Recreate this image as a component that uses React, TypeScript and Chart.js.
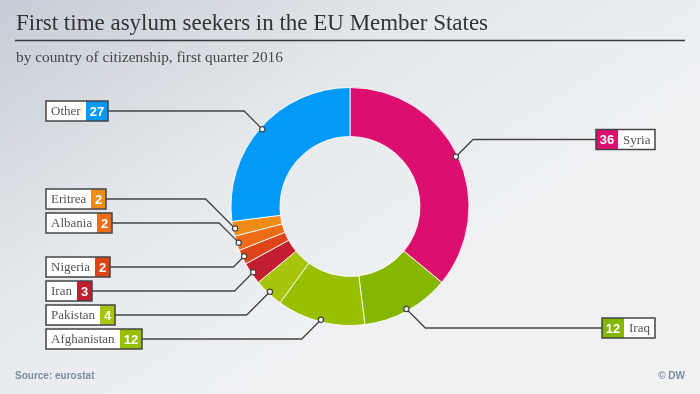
import React, { useEffect, useRef } from 'react';
import { Chart, registerables } from 'chart.js';

Chart.register(...registerables);

const categories = ['Syria', 'Iraq', 'Afghanistan', 'Pakistan', 'Iran', 'Nigeria', 'Albania', 'Eritrea', 'Other'];
const values = [36, 12, 12, 4, 3, 2, 2, 2, 27];
const sliceColors = ['#dc0e6e', '#86b700', '#97bf00', '#a9c40c', '#c11f30', '#df4419', '#ee6b17', '#ee8c17', '#0399f6'];
const labelSides = ['right', 'right', 'left', 'left', 'left', 'left', 'left', 'left', 'left'];
const labelRows = [139.5, 328, 339, 315, 291, 267, 223, 199, 111];

const TITLE = 'First time asylum seekers in the EU Member States';
const SUBTITLE = 'by country of citizenship, first quarter 2016';
const SOURCE = 'Source: eurostat';
const CREDIT = '© DW';

const SERIF = '"Liberation Serif", "DejaVu Serif", serif';
const SANS = '"Liberation Sans", Arial, sans-serif';

function fitFont(ctx: CanvasRenderingContext2D, text: string, target: number, family: string) {
  ctx.font = `20px ${family}`;
  const w = ctx.measureText(text).width;
  const size = (20 * target) / w;
  return `${size.toFixed(2)}px ${family}`;
}

const decor = {
  id: 'decor',
  beforeDraw(chart: any) {
    const { ctx, width, height } = chart;
    ctx.save();
    const g = ctx.createLinearGradient(0, 0, 260, 394);
    g.addColorStop(0, '#c4cdd6');
    g.addColorStop(0.55, '#e6e9ec');
    g.addColorStop(1, '#eff1f3');
    ctx.fillStyle = g;
    ctx.fillRect(0, 0, width, height);

    ctx.textAlign = 'left';
    ctx.textBaseline = 'alphabetic';
    ctx.fillStyle = '#333333';
    ctx.font = fitFont(ctx, TITLE, 472, SERIF);
    ctx.fillText(TITLE, 16, 30);

    ctx.strokeStyle = '#3a3a3a';
    ctx.lineWidth = 1.5;
    ctx.beginPath();
    ctx.moveTo(15, 40.5);
    ctx.lineTo(685, 40.5);
    ctx.stroke();

    ctx.fillStyle = '#444444';
    ctx.font = fitFont(ctx, SUBTITLE, 267, SERIF);
    ctx.fillText(SUBTITLE, 16, 62);

    ctx.fillStyle = '#7d8e9f';
    ctx.font = `bold 10px ${SANS}`;
    ctx.fillText(SOURCE, 15, 379);
    ctx.textAlign = 'right';
    ctx.fillText(CREDIT, 685, 379);
    ctx.restore();
  },
  afterDatasetsDraw(chart: any) {
    const { ctx } = chart;
    const meta = chart.getDatasetMeta(0);
    ctx.save();
    const dots: [number, number][] = [];
    meta.data.forEach((arc: any, i: number) => {
      const { x, y, startAngle, endAngle, outerRadius } = arc.getProps(['x', 'y', 'startAngle', 'endAngle', 'outerRadius'], true);
      const mid = (startAngle + endAngle) / 2;
      const r = outerRadius - 2;
      const dx = x + Math.cos(mid) * r;
      const dy = y + Math.sin(mid) * r;
      const boxY = labelRows[i];
      const side = labelSides[i];
      const label = categories[i];
      const num = String(values[i]);

      ctx.font = `13px ${SERIF}`;
      const labelW = Math.round(ctx.measureText(label).width + 10);
      ctx.font = `bold 13px ${SANS}`;
      const numW = Math.round(ctx.measureText(num).width + 8);
      const totalW = labelW + numW;
      const h = 20;
      const top = boxY - h / 2;

      let left: number;
      let bendX: number;
      let edgeX: number;
      const diff = Math.abs(dy - boxY);
      if (side === 'left') {
        left = 46;
        edgeX = left + totalW;
        bendX = dx - diff;
      } else {
        left = 655 - totalW;
        edgeX = left;
        bendX = dx + diff;
      }

      ctx.strokeStyle = '#444444';
      ctx.lineWidth = 1.3;
      ctx.beginPath();
      ctx.moveTo(dx, dy);
      ctx.lineTo(bendX, boxY);
      ctx.lineTo(edgeX, boxY);
      ctx.stroke();
      dots.push([dx, dy]);

      let labelX: number;
      let numX: number;
      if (side === 'left') {
        labelX = left;
        numX = left + labelW;
      } else {
        numX = left;
        labelX = left + numW;
      }
      ctx.fillStyle = '#ffffff';
      ctx.fillRect(labelX, top, labelW, h);
      ctx.fillStyle = sliceColors[i];
      ctx.fillRect(numX, top, numW, h);
      ctx.strokeStyle = '#444444';
      ctx.lineWidth = 1.5;
      ctx.strokeRect(left, top, totalW, h);

      ctx.textBaseline = 'middle';
      ctx.textAlign = 'left';
      ctx.fillStyle = '#555555';
      ctx.font = `13px ${SERIF}`;
      ctx.fillText(label, labelX + 5, boxY + 1);
      ctx.textAlign = 'center';
      ctx.fillStyle = '#ffffff';
      ctx.font = `bold 13px ${SANS}`;
      ctx.fillText(num, numX + numW / 2, boxY + 1);
    });
    dots.forEach(([px, py]) => {
      ctx.beginPath();
      ctx.arc(px, py, 2.6, 0, Math.PI * 2);
      ctx.fillStyle = '#ffffff';
      ctx.fill();
      ctx.strokeStyle = '#444444';
      ctx.lineWidth = 1.2;
      ctx.stroke();
    });
    ctx.restore();
  },
};

export default function App() {
  const ref = useRef<HTMLCanvasElement | null>(null);
  useEffect(() => {
    document.body.style.margin = '0';
    const canvas = ref.current;
    if (!canvas) return;
    const chart = new Chart(canvas, {
      type: 'doughnut',
      data: {
        labels: categories,
        datasets: [
          {
            data: values,
            backgroundColor: sliceColors,
            borderColor: 'rgba(255,255,255,0.85)',
            borderWidth: 1,
            hoverOffset: 0,
          },
        ],
      },
      options: {
        responsive: false,
        animation: false,
        cutout: '58.8%',
        layout: { padding: { top: 87, bottom: 68, left: 100, right: 100 } },
        plugins: {
          legend: { display: false },
          tooltip: { enabled: false },
        },
        events: [],
      },
      plugins: [decor],
    });
    return () => chart.destroy();
  }, []);
  return (
    <div style={{ width: 700, height: 394 }}>
      <canvas ref={ref} width={700} height={394} style={{ display: 'block' }} />
    </div>
  );
}
